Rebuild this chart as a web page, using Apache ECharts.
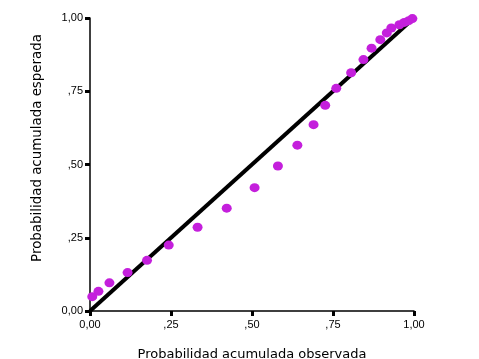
<!DOCTYPE html>
<html>
<head>
<meta charset="utf-8">
<script src="https://cdn.jsdelivr.net/npm/echarts@6/dist/echarts.min.js"></script>
<style>html,body{margin:0;padding:0;background:#fff}#c{width:479px;height:359px}</style>
</head>
<body>
<div id="c"></div>
<script>
const observed = [0.007,0.026,0.060,0.116,0.176,0.243,0.332,0.422,0.508,0.580,0.640,0.690,0.726,0.760,0.806,0.844,0.869,0.896,0.916,0.930,0.955,0.970,0.984,0.995];
const expected = [0.049,0.067,0.096,0.131,0.173,0.225,0.286,0.351,0.421,0.495,0.566,0.636,0.702,0.760,0.813,0.858,0.897,0.926,0.949,0.966,0.977,0.985,0.991,0.998];
const tickValues = [0, 0.25, 0.5, 0.75, 1];
const tickLabels = ['0,00', ',25', ',50', ',75', '1,00'];
const refLine = [[0,0],[1,1]];
const xTitle = 'Probabilidad acumulada observada';
const yTitle = 'Probabilidad acumulada esperada';

function fmt(v){
  const i = tickValues.findIndex(t => Math.abs(t - v) < 1e-9);
  return i >= 0 ? tickLabels[i] : '';
}
const axisCommon = {
  type: 'value', min: 0, max: 1, interval: 0.25,
  splitLine: {show: false},
  axisLine: {show: true, onZero: false, lineStyle: {color: '#000', width: 1.5}},
  axisTick: {show: true, length: 5, lineStyle: {color: '#000', width: 3}},
  axisLabel: {formatter: fmt, color: '#000', fontFamily: 'Liberation Sans', fontSize: 11}
};
const chart = echarts.init(document.getElementById('c'), null, {renderer: 'canvas'});
chart.setOption({
  animation: false,
  backgroundColor: '#fff',
  grid: {left: 90, right: 65, top: 18, bottom: 48, containLabel: false, outerBoundsMode: 'none'},
  xAxis: Object.assign({}, axisCommon, {
    name: xTitle, nameLocation: 'middle', nameGap: 37,
    nameTextStyle: {color: '#000', fontFamily: 'DejaVu Sans', fontSize: 13},
    axisLabel: Object.assign({}, axisCommon.axisLabel, {margin: 8})
  }),
  yAxis: Object.assign({}, axisCommon, {
    axisLabel: Object.assign({}, axisCommon.axisLabel, {margin: 7})
  }),
  graphic: [{
    type: 'text', left: 31, top: 34, rotation: Math.PI/2,
    style: {text: yTitle, fill: '#000', font: '13.4px "DejaVu Sans"'}
  }],
  series: [
    {type: 'line', data: refLine, symbol: 'none', lineStyle: {color: '#000', width: 4}, z: 2},
    {type: 'scatter', data: observed.map((x,i)=>[x, expected[i]]), symbol: 'circle', symbolSize: [10,9],
     itemStyle: {color: '#c41fdc', opacity: 1}, z: 3}
  ]
});
</script>
</body>
</html>
